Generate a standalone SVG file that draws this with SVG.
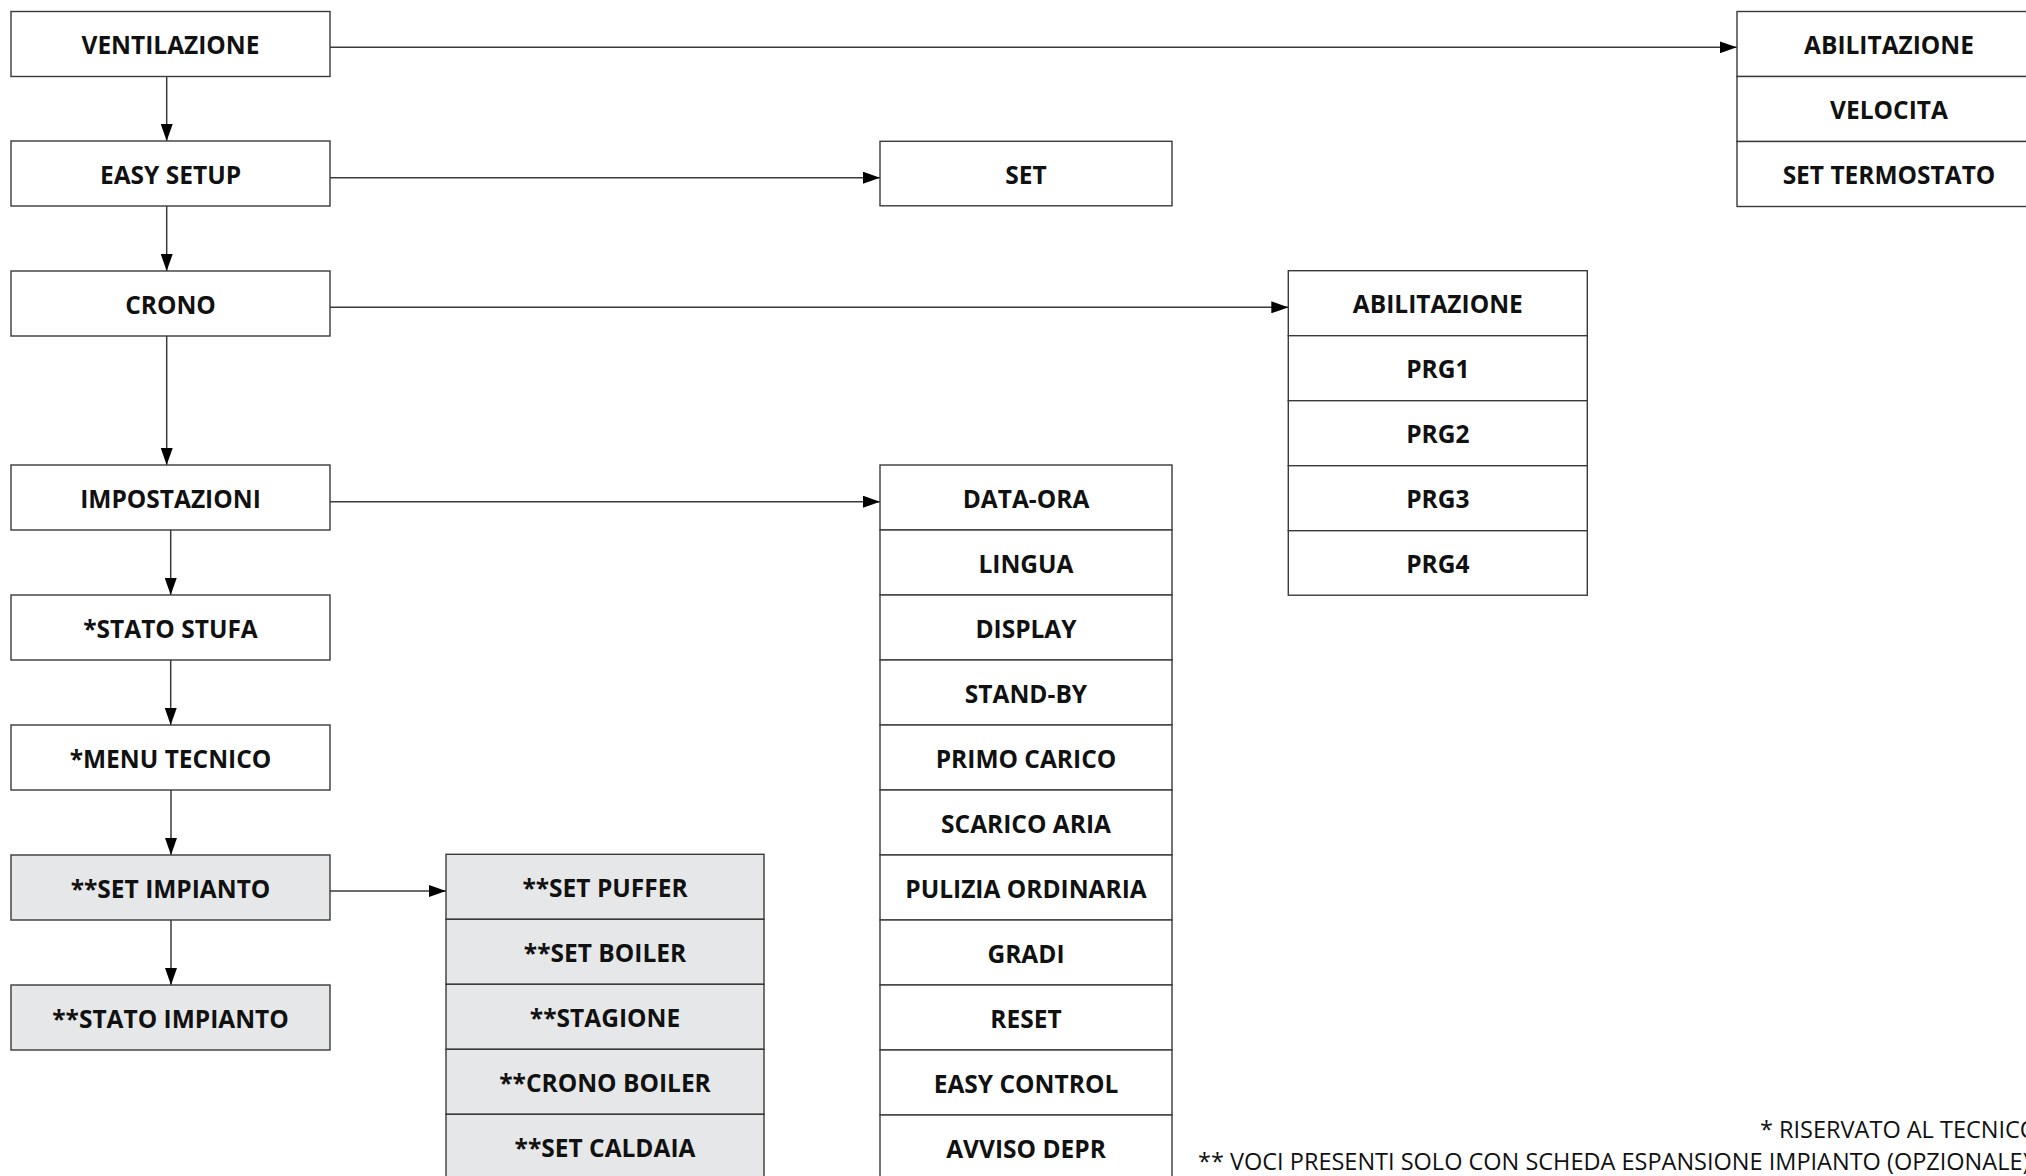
<svg xmlns="http://www.w3.org/2000/svg" width="2026" height="1176" viewBox="0 0 2026 1176">
  <style>
    .box { fill: #ffffff; stroke: #3a3a3a; stroke-width: 1.4; }
    .opt { fill: #e6e7e8; stroke: #3a3a3a; stroke-width: 1.4; }
    .lbl { font-family: "Open Sans", "Liberation Sans", sans-serif; font-weight: 700; font-size: 24.5px; fill: #111111; text-anchor: middle; }
    .note { font-family: "Open Sans", "Liberation Sans", sans-serif; font-weight: 400; font-size: 23.5px; fill: #111111; }
    .wire { fill: none; stroke: #3a3a3a; stroke-width: 1.5; }
  </style>
  <defs>
    <marker id="arrow" markerUnits="userSpaceOnUse" markerWidth="17" markerHeight="12" refX="17" refY="6" orient="auto">
      <path d="M0,0 L17,6 L0,12 z" fill="#000000"/>
    </marker>
  </defs>

  <rect x="0" y="0" width="2026" height="1176" fill="#ffffff"/>

  <!-- connectors -->
  <g id="connectors">
    <path class="wire" d="M330,47.3 H1736.7" marker-end="url(#arrow)"/>
    <path class="wire" d="M330,177.7 H880" marker-end="url(#arrow)"/>
    <path class="wire" d="M330,307.3 H1288.3" marker-end="url(#arrow)"/>
    <path class="wire" d="M330,501.7 H880" marker-end="url(#arrow)"/>
    <path class="wire" d="M330,891 H446" marker-end="url(#arrow)"/>
    <path class="wire" d="M166.7,76 V141" marker-end="url(#arrow)"/>
    <path class="wire" d="M166.7,206 V271" marker-end="url(#arrow)"/>
    <path class="wire" d="M166.7,336 V465" marker-end="url(#arrow)"/>
    <path class="wire" d="M170.7,530 V595" marker-end="url(#arrow)"/>
    <path class="wire" d="M170.7,660 V725" marker-end="url(#arrow)"/>
    <path class="wire" d="M171,790 V855" marker-end="url(#arrow)"/>
    <path class="wire" d="M171,920 V985" marker-end="url(#arrow)"/>
  </g>

  <!-- main menu column -->
  <g id="ventilazione"><rect class="box" x="11" y="11.5" width="319" height="65"/><text class="lbl" x="170.5" y="54">VENTILAZIONE</text></g>
  <g id="easy-setup"><rect class="box" x="11" y="141" width="319" height="65"/><text class="lbl" x="170.5" y="183.5">EASY SETUP</text></g>
  <g id="crono"><rect class="box" x="11" y="271" width="319" height="65"/><text class="lbl" x="170.5" y="313.5">CRONO</text></g>
  <g id="impostazioni"><rect class="box" x="11" y="465" width="319" height="65"/><text class="lbl" x="170.5" y="507.5">IMPOSTAZIONI</text></g>
  <g id="stato-stufa"><rect class="box" x="11" y="595" width="319" height="65"/><text class="lbl" x="170.5" y="637.5">*STATO STUFA</text></g>
  <g id="menu-tecnico"><rect class="box" x="11" y="725" width="319" height="65"/><text class="lbl" x="170.5" y="767.5">*MENU TECNICO</text></g>
  <g id="set-impianto"><rect class="opt" x="11" y="855" width="319" height="65"/><text class="lbl" x="170.5" y="897.5">**SET IMPIANTO</text></g>
  <g id="stato-impianto"><rect class="opt" x="11" y="985" width="319" height="65"/><text class="lbl" x="170.5" y="1027.5">**STATO IMPIANTO</text></g>

  <!-- ventilazione submenu -->
  <g id="vent-abilitazione"><rect class="box" x="1737" y="11.5" width="304" height="65"/><text class="lbl" x="1889" y="54">ABILITAZIONE</text></g>
  <g id="vent-velocita"><rect class="box" x="1737" y="76.5" width="304" height="65"/><text class="lbl" x="1889" y="119">VELOCITA</text></g>
  <g id="vent-set-termostato"><rect class="box" x="1737" y="141.5" width="304" height="65"/><text class="lbl" x="1889" y="184">SET TERMOSTATO</text></g>

  <!-- easy setup submenu -->
  <g id="easy-set"><rect class="box" x="880" y="141.3" width="292" height="64.5"/><text class="lbl" x="1026" y="183.5">SET</text></g>

  <!-- crono submenu -->
  <g id="crono-abilitazione"><rect class="box" x="1288.3" y="270.7" width="299" height="65"/><text class="lbl" x="1437.8" y="313.2">ABILITAZIONE</text></g>
  <g id="crono-prg1"><rect class="box" x="1288.3" y="335.7" width="299" height="65"/><text class="lbl" x="1437.8" y="378.2">PRG1</text></g>
  <g id="crono-prg2"><rect class="box" x="1288.3" y="400.7" width="299" height="65"/><text class="lbl" x="1437.8" y="443.2">PRG2</text></g>
  <g id="crono-prg3"><rect class="box" x="1288.3" y="465.7" width="299" height="65"/><text class="lbl" x="1437.8" y="508.2">PRG3</text></g>
  <g id="crono-prg4"><rect class="box" x="1288.3" y="530.7" width="299" height="64.5"/><text class="lbl" x="1437.8" y="573.2">PRG4</text></g>

  <!-- impostazioni submenu -->
  <g id="imp-data-ora"><rect class="box" x="880" y="465" width="292" height="65"/><text class="lbl" x="1026" y="507.5">DATA-ORA</text></g>
  <g id="imp-lingua"><rect class="box" x="880" y="530" width="292" height="65"/><text class="lbl" x="1026" y="572.5">LINGUA</text></g>
  <g id="imp-display"><rect class="box" x="880" y="595" width="292" height="65"/><text class="lbl" x="1026" y="637.5">DISPLAY</text></g>
  <g id="imp-stand-by"><rect class="box" x="880" y="660" width="292" height="65"/><text class="lbl" x="1026" y="702.5">STAND-BY</text></g>
  <g id="imp-primo-carico"><rect class="box" x="880" y="725" width="292" height="65"/><text class="lbl" x="1026" y="767.5">PRIMO CARICO</text></g>
  <g id="imp-scarico-aria"><rect class="box" x="880" y="790" width="292" height="65"/><text class="lbl" x="1026" y="832.5">SCARICO ARIA</text></g>
  <g id="imp-pulizia-ordinaria"><rect class="box" x="880" y="855" width="292" height="65"/><text class="lbl" x="1026" y="897.5">PULIZIA ORDINARIA</text></g>
  <g id="imp-gradi"><rect class="box" x="880" y="920" width="292" height="65"/><text class="lbl" x="1026" y="962.5">GRADI</text></g>
  <g id="imp-reset"><rect class="box" x="880" y="985" width="292" height="65"/><text class="lbl" x="1026" y="1027.5">RESET</text></g>
  <g id="imp-easy-control"><rect class="box" x="880" y="1050" width="292" height="65"/><text class="lbl" x="1026" y="1092.5">EASY CONTROL</text></g>
  <g id="imp-avviso-depr"><rect class="box" x="880" y="1115" width="292" height="65"/><text class="lbl" x="1026" y="1157.5">AVVISO DEPR</text></g>

  <!-- set impianto submenu (expansion board only) -->
  <g id="imp-set-puffer"><rect class="opt" x="446" y="854.3" width="318" height="65"/><text class="lbl" x="605" y="897">**SET PUFFER</text></g>
  <g id="imp-set-boiler"><rect class="opt" x="446" y="919.3" width="318" height="65"/><text class="lbl" x="605" y="962">**SET BOILER</text></g>
  <g id="imp-stagione"><rect class="opt" x="446" y="984.3" width="318" height="65"/><text class="lbl" x="605" y="1027">**STAGIONE</text></g>
  <g id="imp-crono-boiler"><rect class="opt" x="446" y="1049.3" width="318" height="65"/><text class="lbl" x="605" y="1092">**CRONO BOILER</text></g>
  <g id="imp-set-caldaia"><rect class="opt" x="446" y="1114.3" width="318" height="65"/><text class="lbl" x="605" y="1157">**SET CALDAIA</text></g>

  <!-- footnotes -->
  <g id="legend">
    <text class="note" x="1760" y="1137.5">* RISERVATO AL TECNICO</text>
    <text class="note" x="1198" y="1170">** VOCI PRESENTI SOLO CON SCHEDA ESPANSIONE IMPIANTO (OPZIONALE)</text>
  </g>
</svg>
